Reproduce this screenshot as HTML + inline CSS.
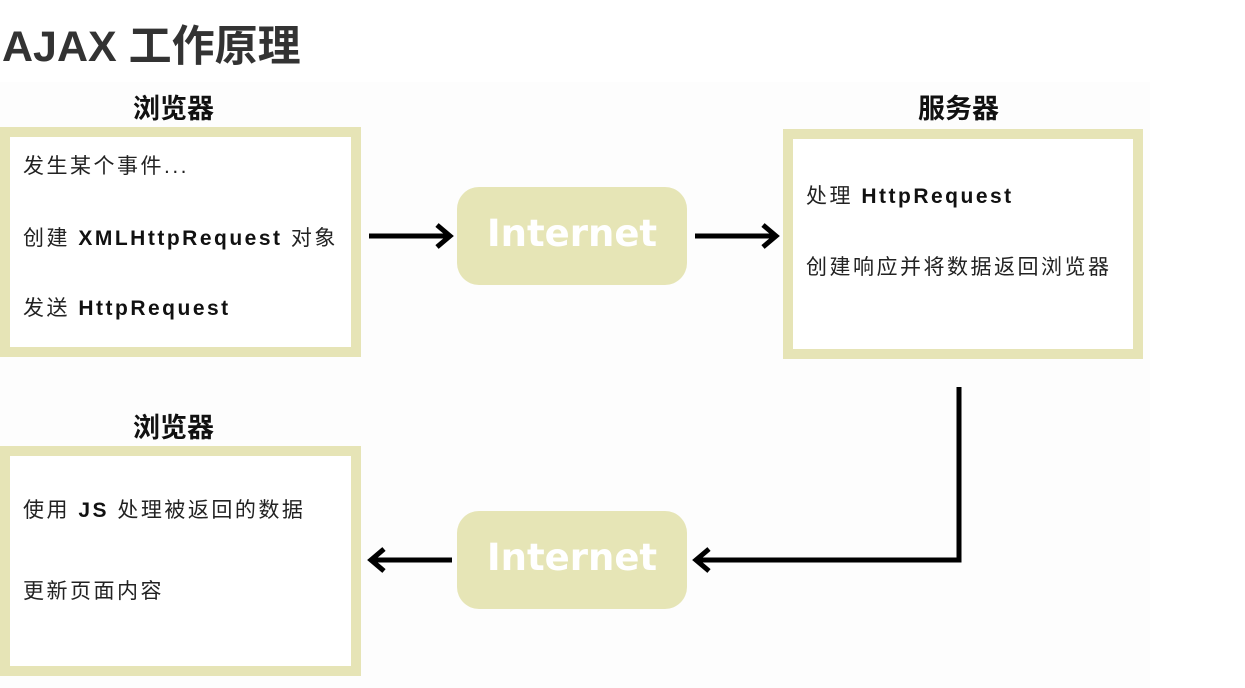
<!DOCTYPE html>
<html><head><meta charset="utf-8"><style>
body{margin:0;width:1245px;height:688px;background:#fff;position:relative;overflow:hidden;font-family:"Liberation Sans","Noto Sans CJK SC",sans-serif;}
.t{position:absolute;white-space:nowrap;}
.box{position:absolute;box-sizing:border-box;border:10px solid #e6e4b6;background:#fff;}
.pill{position:absolute;background:#e6e5b6;border-radius:22px;color:#fff;font:bold 37px "DejaVu Sans","Liberation Sans",sans-serif;text-align:center;}
.lbl{font-size:27px;font-weight:bold;color:#111;}
.tx{font-size:21px;color:#222;letter-spacing:2.5px;}
b{color:#111}
</style></head><body>
<div style="position:absolute;left:0;top:82px;width:1150px;height:606px;background:#fdfdfd"></div>
<div class="t" style="left:2px;top:12px;font-size:43px;font-weight:bold;color:#333">AJAX 工作原理</div>

<div class="t lbl" style="left:133px;top:87px">浏览器</div>
<div class="t lbl" style="left:918px;top:87px">服务器</div>
<div class="t lbl" style="left:133px;top:406px">浏览器</div>

<div class="box" style="left:0;top:127px;width:361px;height:230px"></div>
<div class="t tx" style="left:23px;top:150px">发生某个事件...</div>
<div class="t tx" style="left:23px;top:222px">创建 <b>XMLHttpRequest</b> 对象</div>
<div class="t tx" style="left:23px;top:292px">发送 <b>HttpRequest</b></div>

<div class="box" style="left:783px;top:129px;width:360px;height:230px"></div>
<div class="t tx" style="left:806px;top:180px">处理 <b>HttpRequest</b></div>
<div class="t tx" style="left:806px;top:251px">创建响应并将数据返回浏览器</div>

<div class="box" style="left:0;top:446px;width:361px;height:230px"></div>
<div class="t tx" style="left:23px;top:494px">使用 <b>JS</b> 处理被返回的数据</div>
<div class="t tx" style="left:23px;top:575px">更新页面内容</div>

<div class="pill" style="left:457px;top:187px;width:230px;height:98px;line-height:94px">Internet</div>
<div class="pill" style="left:457px;top:511px;width:230px;height:98px;line-height:94px">Internet</div>

<svg width="1245" height="688" style="position:absolute;left:0;top:0" fill="none" stroke="#000" stroke-width="5">
<path d="M369 236H449M437 225L450 236L437 247"/>
<path d="M695 236H775M763 225L776 236L763 247"/>
<path d="M959 387V560H697M709 549L696 560L709 571"/>
<path d="M452 560H372M384 549L371 560L384 571"/>
</svg>
</body></html>
